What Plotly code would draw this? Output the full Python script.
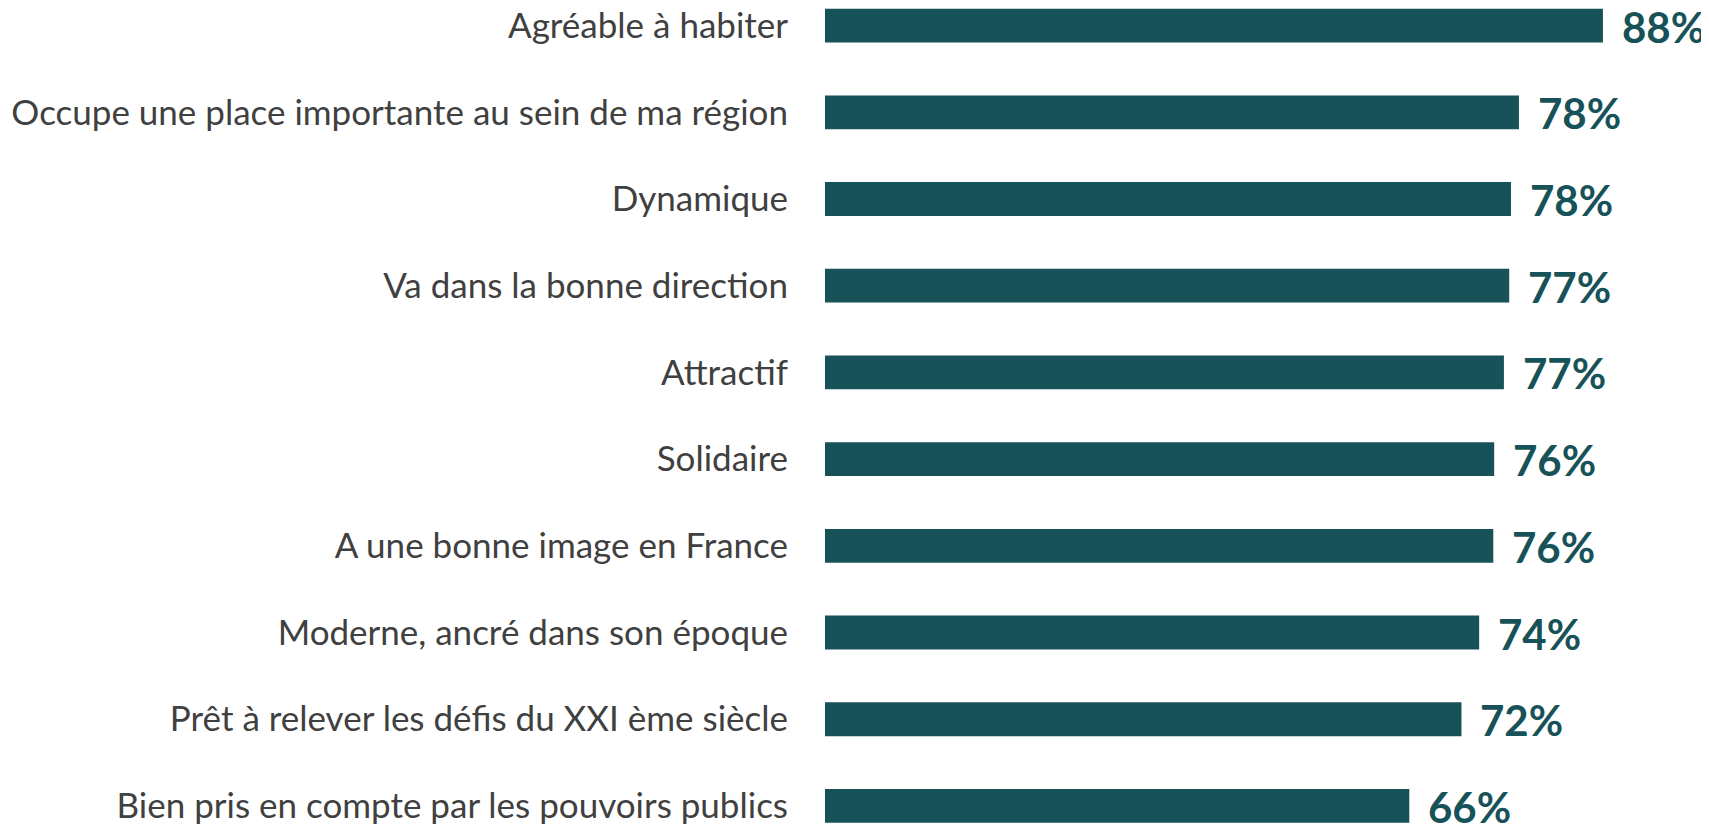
import plotly.graph_objects as go

# data, top to bottom as shown
labels = [
    "Agréable à habiter",
    "Occupe une place importante au sein de ma région",
    "Dynamique",
    "Va dans la bonne direction",
    "Attractif",
    "Solidaire",
    "A une bonne image en France",
    "Moderne, ancré dans son époque",
    "Prêt à relever les défis du XXI ème siècle",
    "Bien pris en compte par les pouvoirs publics",
]
values = [88.0, 78.5, 77.6, 77.4, 76.8, 75.7, 75.6, 74.0, 72.0, 66.1]
value_text = ["88%", "78%", "78%", "77%", "77%", "76%", "76%", "74%", "72%", "66%"]

TEAL = "#175258"
GREY = "#404040"

fig = go.Figure()
fig.add_trace(go.Bar(
    x=values, y=labels, orientation="h",
    marker=dict(color=TEAL, line=dict(width=0)),
    width=0.39, hoverinfo="skip",
))

# value labels just right of each bar
for lab, v, t in zip(labels, values, value_text):
    fig.add_annotation(
        x=v, y=lab, xref="x", yref="y", text="<b>%s</b>" % t,
        showarrow=False, xanchor="left", xshift=17, yshift=-1,
        font=dict(family="Lato", size=42, color=TEAL),
    )

# page body adds ~8px margin, so the figure is a bit smaller than the window
fig.update_layout(
    width=1701, height=817,
    margin=dict(l=817, r=0, t=0, b=0),
    plot_bgcolor="white", paper_bgcolor="white",
    showlegend=False,
    xaxis=dict(range=[0, 100], visible=False, fixedrange=True),
    yaxis=dict(
        categoryorder="array", categoryarray=labels[::-1],
        range=[-0.22, 9.203], showgrid=False, zeroline=False, showline=False,
        ticks="", ticklabelstandoff=36, automargin=False,
        tickfont=dict(family="Lato", size=35, color=GREY),
    ),
)

fig.write_html("out.html")
